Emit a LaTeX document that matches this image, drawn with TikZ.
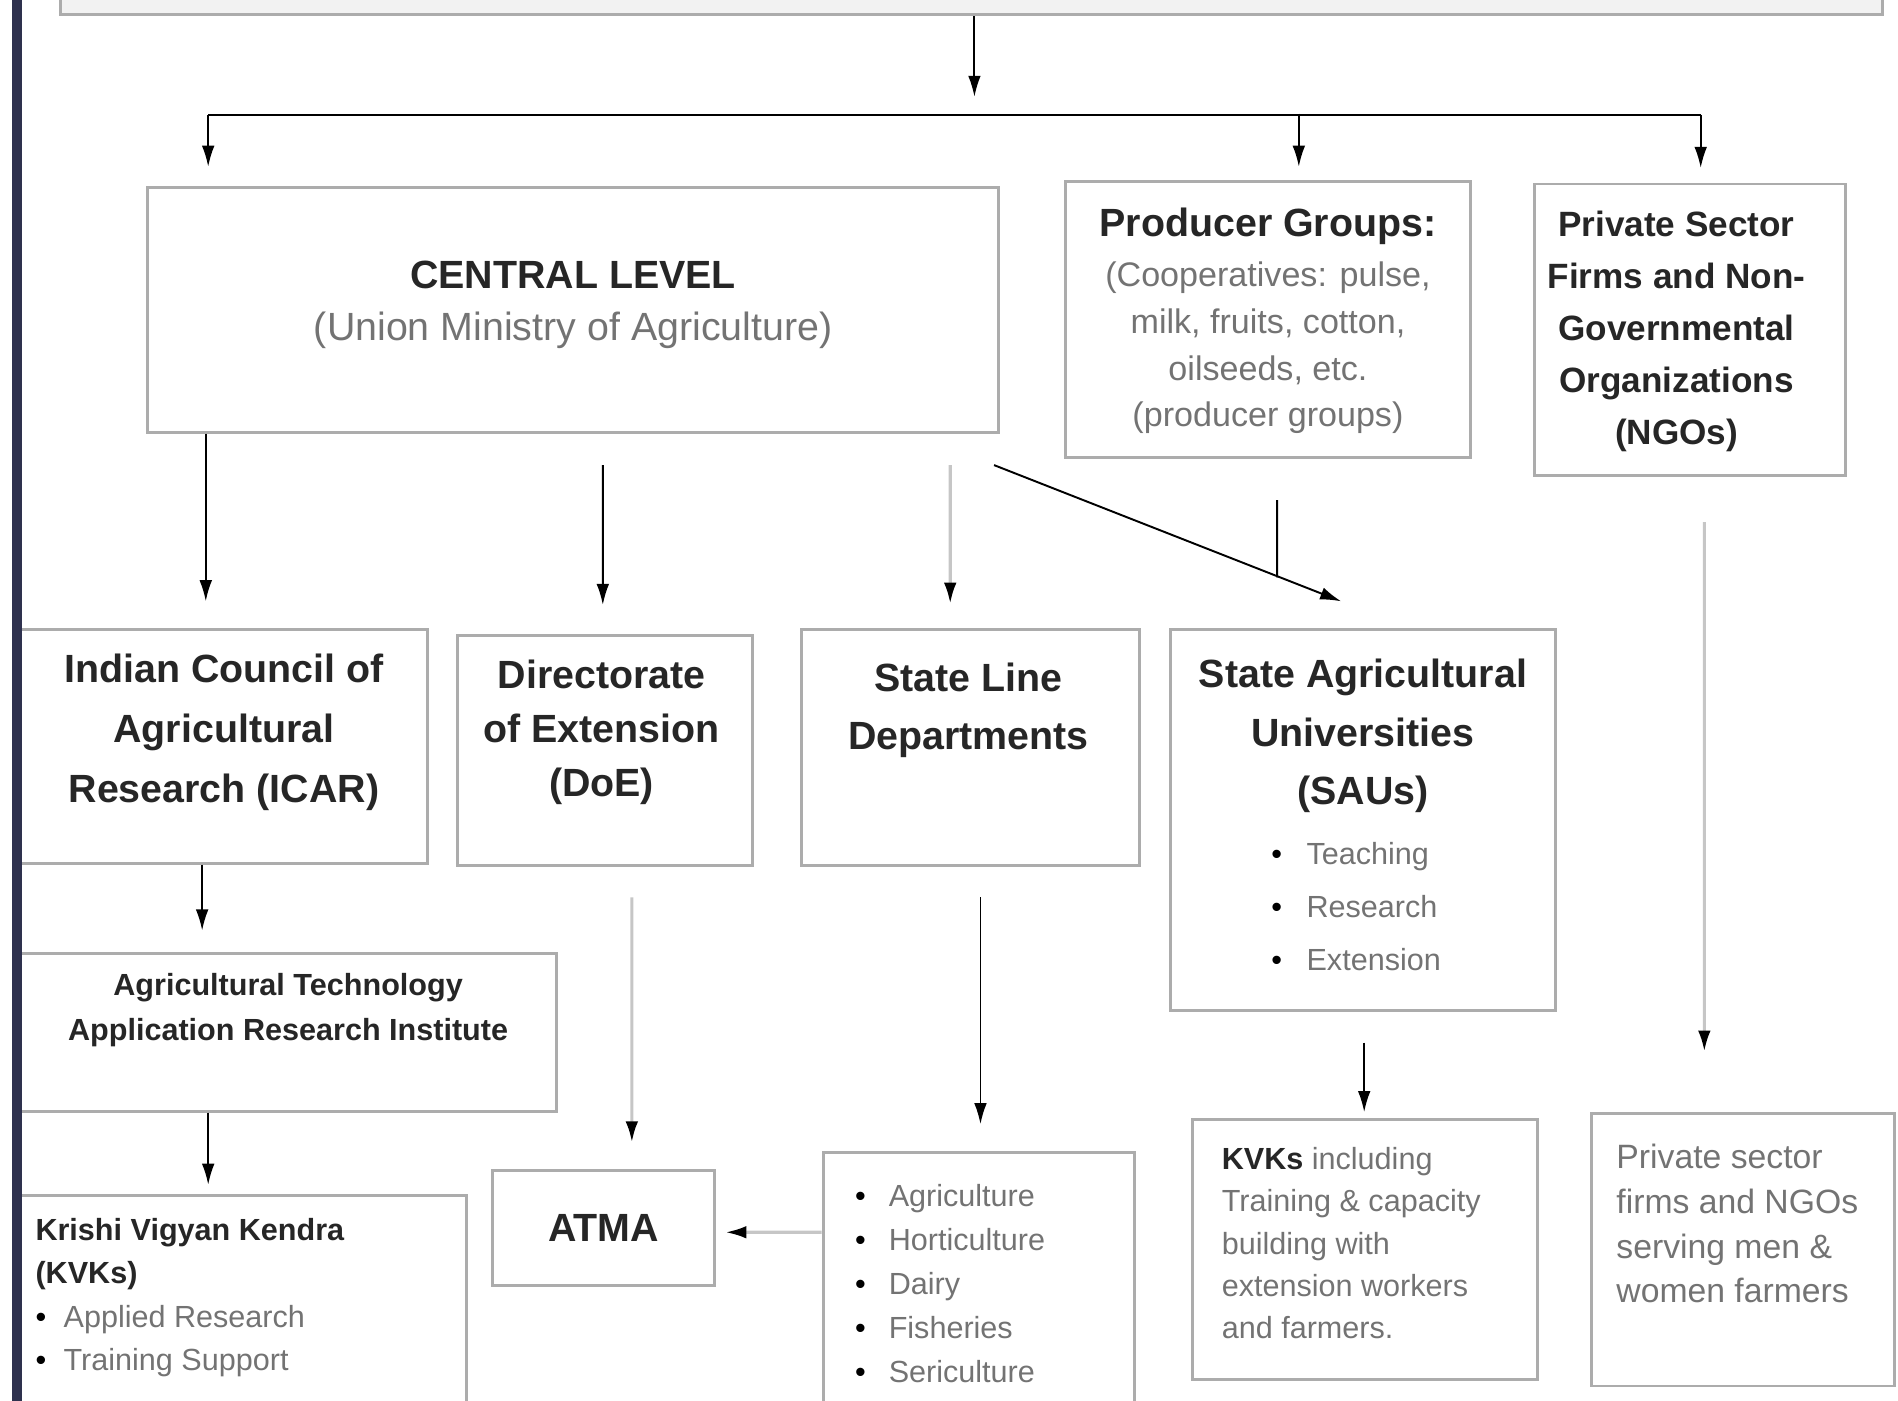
\documentclass[tikz,border=0pt]{standalone}
\usepackage{fontspec}
\setmainfont{Liberation Sans}
\usetikzlibrary{arrows.meta,calc}
\definecolor{BarNavy}{RGB}{46,49,78}
\def\px{0.12105mm}

\begin{document}
\begin{tikzpicture}[x=0.12105mm,y=-0.12105mm,
  box/.style={rectangle,draw=gray!65,line width=0.85pt,inner sep=0pt},
  head/.style={font=\fontsize{11.2}{#1}\selectfont\bfseries,text=black!85,align=center,inner sep=0pt},
  head/.default=16.5,
  small/.style={font=\fontsize{8.7}{#1}\selectfont,text=black!55,align=left,inner sep=0pt},
  small/.default=12.4,
  arr/.style={line width=0.55pt,-{Latex[length=6pt,width=3.6pt]}},
  grayarr/.style={line width=0.9pt,draw=gray!45,-{Latex[length=6pt,width=3.6pt,black]}}]
\useasboundingbox (0,0) rectangle (1568,1157);
\clip (0,0) rectangle (1568,1157);
%Node Coordinates
\node at (802.5,-9) [box,fill=gray!10,minimum width=1505*\px,minimum height=42*\px] (Top) {};
\node at (473.5,256) [box,minimum width=703*\px,minimum height=202*\px] (Central) {};
\node at (1047.5,264) [box,minimum width=335*\px,minimum height=228*\px] (Producer) {};
\node at (1396.5,272.5) [box,minimum width=257*\px,minimum height=241*\px] (Private) {};
\node at (182.5,616.5) [box,minimum width=341*\px,minimum height=193*\px] (ICAR) {};
\node at (500,620) [box,minimum width=244*\px,minimum height=190*\px] (DoE) {};
\node at (801.5,617.5) [box,minimum width=279*\px,minimum height=195*\px] (SLD) {};
\node at (1126,677.5) [box,minimum width=318*\px,minimum height=315*\px] (SAU) {};
\node at (236,853) [box,minimum width=448*\px,minimum height=130*\px] (ATARI) {};
\node at (198.5,1081.5) [box,minimum width=373*\px,minimum height=187*\px] (KVK) {};
\node at (498.5,1014.5) [box,minimum width=183*\px,minimum height=95*\px] (ATMA) {};
\node at (808.5,1063.5) [box,minimum width=257*\px,minimum height=223*\px] (Depts) {};
\node at (1127.5,1032.5) [box,minimum width=285*\px,minimum height=215*\px] (KVKTrain) {};
\node at (1440,1032.5) [box,minimum width=250*\px,minimum height=225*\px] (PrivNGO) {};
\coordinate (Split) at (805,95);
\coordinate (SplitL) at (172,95);
\coordinate (SplitR) at (1405,95);
\coordinate (Join) at (1055,477);
%Node Labels
\node [head=14.8] at ($(Central)+(0,-4)$) (CentralText) {CENTRAL LEVEL\\{\mdseries\color{black!55}(Union Ministry of Agriculture)}};
\node [head] at ($(Producer.north)+(0,38)$) (ProducerHead) {Producer Groups:};
\node [small=13.3,font=\fontsize{9.7}{13.3}\selectfont,align=center] at ($(Producer)+(0,23.5)$) (ProducerText) {(Cooperatives: pulse,\\milk, fruits, cotton,\\oilseeds, etc.\\(producer groups)};
\node [head,font=\fontsize{10}{14.8}\selectfont\bfseries] at ($(Private)+(-11.5,1.5)$) (PrivateText) {Private Sector\\Firms and Non-\\Governmental\\Organizations\\(NGOs)};
\node [head,font=\fontsize{11.2}{17.2}\selectfont\bfseries] at ($(ICAR)+(2.5,-11.5)$) (ICARText) {Indian Council of\\Agricultural\\Research (ICAR)};
\node [head=15.5] at ($(DoE)+(-3,-15)$) (DoEText) {Directorate\\of Extension\\(DoE)};
\node [head] at ($(SLD)+(-1.5,-30.5)$) (SLDText) {State Line\\Departments};
\node [head=16.7] at ($(SAU)+(0,-69.5)$) (SAUText) {State Agricultural\\Universities\\(SAUs)};
\node [small=15,anchor=west] at ($(SAU.west)+(84,71.5)$) (SAUList) {{\color{black}\makebox[10pt][l]{•}}Teaching\\{\color{black}\makebox[10pt][l]{•}}Research\\{\color{black}\makebox[10pt][l]{•}}Extension};
\node [head,font=\fontsize{8.7}{12.7}\selectfont\bfseries] at ($(ATARI)+(2,-18.5)$) (ATARIText) {Agricultural Technology\\Application Research Institute};
\node [small,anchor=west] at ($(KVK.west)+(18,-9.5)$) (KVKText) {{\color{black!85}\bfseries Krishi Vigyan Kendra}\\{\color{black!85}\bfseries (KVKs)}\\{\color{black}\makebox[8pt][l]{•}}Applied Research\\{\color{black}\makebox[8pt][l]{•}}Training Support};
\node [head] at (ATMA) (ATMAText) {ATMA};
\node [small=12.5,anchor=west] at ($(Depts.west)+(27,-3)$) (DeptsText) {{\color{black}\makebox[9.6pt][l]{•}}Agriculture\\{\color{black}\makebox[9.6pt][l]{•}}Horticulture\\{\color{black}\makebox[9.6pt][l]{•}}Dairy\\{\color{black}\makebox[9.6pt][l]{•}}Fisheries\\{\color{black}\makebox[9.6pt][l]{•}}Sericulture};
\node [small=12,anchor=west] at ($(KVKTrain.west)+(25,-5.5)$) (KVKTrainText) {{\color{black!85}\bfseries KVKs} including\\Training \& capacity\\building with\\extension workers\\and farmers.};
\node [small,font=\fontsize{9.6}{12.7}\selectfont,anchor=west] at ($(PrivNGO.west)+(21,-21.5)$) (PrivNGOText) {Private sector\\firms and NGOs\\serving men \&\\women farmers};
%connections
\draw [arr] (Top.south -| Split) -- ($(Split)+(0,-15)$);
\draw [line width=0.55pt] (SplitL) -- (SplitR);
\draw [arr] (SplitL) -- ($(SplitL |- Central.north)+(0,-16)$);
\draw [arr] ($(Producer.north)+(25.5,-55)$) -- ($(Producer.north)+(25.5,-11)$);
\draw [arr] (SplitR) -- ($(SplitR |- Private.north)+(0,-12)$);
\draw [arr] ($(Central.south)+(-303.5,0)$) -- ($(ICAR.north)+(-12.5,-22)$);
\draw [arr] ($(Central.south)+(24.5,26)$) -- ($(DoE.north)+(-2,-24)$);
\draw [grayarr] ($(Central.south)+(311.5,26)$) -- ($(SLD.north)+(-16.5,-20)$);
\draw [arr] ($(Central.south east)+(-5,26)$) -- ($(SAU.north)+(-18,-22)$);
\draw [line width=0.55pt] ($(Producer.south)+(7.5,34)$) -- (Join);
\draw [grayarr] ($(Private.south)+(11.5,37)$) -- ($(PrivNGO.north)+(-32,-50)$);
\draw [arr] ($(ICAR.south)+(-15.5,0)$) -- ($(ATARI.north)+(-69,-18)$);
\draw [arr] ($(ATARI.south)+(-64,0)$) -- ($(KVK.north)+(-26.5,-8)$);
\draw [grayarr] ($(DoE.south)+(22,25)$) -- ($(ATMA.north)+(23.5,-22)$);
\draw [arr] ($(SLD.south)+(8.5,25)$) -- ($(Depts.north)+(1.5,-22)$);
\draw [grayarr] ($(Depts.west)+(0,-45.5)$) -- ($(ATMA.east)+(8,3.5)$);
\draw [arr] ($(SAU.south)+(1,25)$) -- ($(KVKTrain.north)+(-0.5,-5)$);
% left edge
\fill [BarNavy] (10,0) rectangle (18.5,1157);
\end{tikzpicture}
\end{document}
